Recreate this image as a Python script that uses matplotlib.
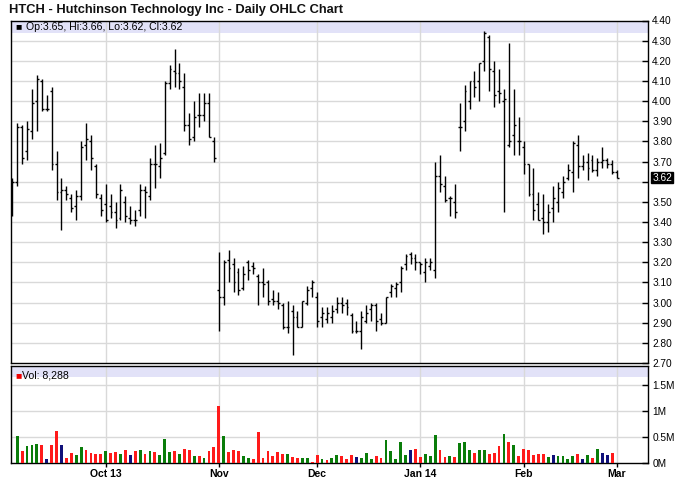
import numpy as np
import matplotlib
matplotlib.use("Agg")
import matplotlib.pyplot as plt
from matplotlib.transforms import blended_transform_factory

# ---------------- data ----------------
opens = [3.52, 3.60, 3.87, 3.75, 3.85, 4.00, 4.10, 3.96, 4.05, 3.69,
         3.55, 3.56, 3.52, 3.48, 3.53, 3.78, 3.80, 3.68, 3.52, 3.49,
         3.48, 3.45, 3.42, 3.50, 3.42, 3.41, 3.46, 3.56, 3.53, 3.69,
         3.68, 3.74, 4.09, 4.15, 4.14, 4.07, 3.88, 3.82, 3.93, 3.93,
         3.99, 3.80, 3.06, 3.03, 3.21, 3.19, 3.15, 3.07, 3.20, 3.18,
         3.13, 3.10, 3.10, 3.02, 3.01, 2.99, 2.88, 2.96, 2.93, 2.88,
         3.00, 3.07, 3.03, 2.93, 2.92, 2.93, 2.97, 3.00, 3.00, 2.94,
         2.86, 2.86, 2.91, 2.97, 2.99, 2.92, 2.90, 3.05, 3.07, 3.10,
         3.19, 3.24, 3.22, 3.20, 3.15, 3.18, 3.16, 3.63, 3.58, 3.52,
         3.50, 3.87, 3.90, 4.00, 4.10, 4.10, 4.20, 4.32, 4.15, 4.05,
         4.00, 3.78, 3.83, 3.80, 3.77, 3.69, 3.54, 3.49, 3.42, 3.40,
         3.47, 3.50, 3.55, 3.62, 3.65, 3.78, 3.68, 3.70, 3.71, 3.66,
         3.70, 3.71, 3.69, 3.65]
highs = [3.62, 3.89, 3.88, 3.90, 4.06, 4.13, 4.11, 4.03, 4.07, 3.75,
         3.62, 3.58, 3.54, 3.56, 3.80, 3.89, 3.83, 3.69, 3.54, 3.59,
         3.54, 3.50, 3.59, 3.53, 3.48, 3.46, 3.59, 3.58, 3.72, 3.78,
         3.79, 4.10, 4.18, 4.26, 4.19, 4.14, 3.94, 4.00, 4.04, 4.04,
         4.04, 3.82, 3.25, 3.21, 3.26, 3.22, 3.17, 3.18, 3.21, 3.20,
         3.14, 3.17, 3.11, 3.06, 3.05, 3.00, 3.01, 2.99, 2.96, 3.01,
         3.08, 3.11, 3.05, 2.98, 2.98, 2.99, 3.03, 3.03, 3.02, 2.95,
         2.91, 2.96, 2.99, 3.00, 3.00, 2.95, 3.03, 3.09, 3.10, 3.18,
         3.24, 3.25, 3.24, 3.20, 3.22, 3.22, 3.70, 3.73, 3.63, 3.53,
         3.59, 3.99, 4.08, 4.10, 4.15, 4.19, 4.35, 4.33, 4.20, 4.16,
         4.06, 4.29, 4.06, 3.92, 3.80, 3.69, 3.67, 3.55, 3.54, 3.49,
         3.58, 3.60, 3.63, 3.69, 3.80, 3.83, 3.73, 3.74, 3.73, 3.72,
         3.77, 3.72, 3.71, 3.66]
lows = [3.43, 3.58, 3.69, 3.71, 3.81, 3.85, 3.95, 3.95, 3.66, 3.51,
        3.36, 3.51, 3.45, 3.41, 3.51, 3.71, 3.66, 3.52, 3.43, 3.40,
        3.42, 3.37, 3.41, 3.40, 3.39, 3.38, 3.43, 3.42, 3.51, 3.57,
        3.62, 3.73, 4.06, 4.07, 4.06, 3.85, 3.78, 3.80, 3.87, 3.90,
        3.82, 3.70, 2.86, 2.99, 3.10, 3.05, 3.04, 3.06, 3.11, 3.14,
        2.99, 3.03, 2.99, 2.99, 2.97, 2.87, 2.85, 2.74, 2.88, 2.88,
        2.99, 3.03, 2.88, 2.88, 2.90, 2.90, 2.95, 2.95, 2.94, 2.85,
        2.85, 2.77, 2.90, 2.91, 2.86, 2.89, 2.90, 3.03, 3.03, 3.05,
        3.16, 3.19, 3.16, 3.14, 3.10, 3.16, 3.12, 3.55, 3.50, 3.43,
        3.42, 3.75, 3.85, 3.96, 4.02, 4.00, 4.15, 4.05, 3.97, 3.99,
        3.45, 3.77, 3.73, 3.73, 3.64, 3.53, 3.41, 3.41, 3.34, 3.35,
        3.40, 3.45, 3.52, 3.61, 3.55, 3.62, 3.66, 3.61, 3.65, 3.63,
        3.67, 3.67, 3.64, 3.62]
closes = [3.60, 3.87, 3.72, 3.86, 3.99, 4.11, 3.96, 3.96, 3.69, 3.55,
          3.56, 3.54, 3.47, 3.53, 3.77, 3.81, 3.72, 3.54, 3.46, 3.41,
          3.45, 3.41, 3.56, 3.43, 3.41, 3.41, 3.56, 3.55, 3.69, 3.69,
          3.72, 4.09, 4.16, 4.14, 4.10, 3.88, 3.81, 3.92, 3.93, 3.99,
          3.82, 3.72, 3.03, 3.20, 3.17, 3.10, 3.06, 3.14, 3.16, 3.17,
          3.10, 3.09, 3.01, 3.01, 3.00, 2.88, 2.88, 2.93, 2.88, 3.01,
          3.06, 3.10, 2.91, 2.95, 2.95, 2.96, 3.00, 2.99, 2.98, 2.86,
          2.86, 2.93, 2.95, 2.99, 2.91, 2.90, 3.03, 3.08, 3.09, 3.17,
          3.23, 3.22, 3.20, 3.19, 3.20, 3.20, 3.63, 3.59, 3.51, 3.52,
          3.45, 3.87, 4.05, 4.10, 4.07, 4.19, 4.34, 4.16, 4.03, 4.04,
          4.01, 3.80, 3.88, 3.80, 3.69, 3.54, 3.46, 3.41, 3.40, 3.45,
          3.52, 3.57, 3.60, 3.66, 3.79, 3.68, 3.70, 3.67, 3.66, 3.70,
          3.71, 3.69, 3.65, 3.62]

# volume in millions of shares, and bar colour code
volumes = [0.0, 0.515, 0.225, 0.32, 0.355, 0.37, 0.34, 0.07, 0.34, 0.625,
           0.34, 0.10, 0.20, 0.15, 0.30, 0.26, 0.19, 0.17, 0.17, 0.225,
           0.19, 0.205, 0.17, 0.26, 0.15, 0.225, 0.245, 0.17, 0.24, 0.205,
           0.15, 0.46, 0.205, 0.225, 0.17, 0.28, 0.245, 0.13, 0.13, 0.09,
           0.225, 0.30, 1.10, 0.515, 0.205, 0.245, 0.225, 0.13, 0.09, 0.07,
           0.59, 0.09, 0.225, 0.13, 0.205, 0.17, 0.17, 0.11, 0.09, 0.09,
           0.09, 0.02, 0.15, 0.07, 0.05, 0.09, 0.15, 0.13, 0.07, 0.15,
           0.11, 0.09, 0.19, 0.07, 0.13, 0.09, 0.44, 0.225, 0.07, 0.40,
           0.15, 0.26, 0.28, 0.11, 0.17, 0.13, 0.535, 0.26, 0.11, 0.13,
           0.11, 0.38, 0.40, 0.245, 0.19, 0.26, 0.26, 0.17, 0.19, 0.32,
           0.555, 0.40, 0.34, 0.13, 0.28, 0.245, 0.15, 0.17, 0.17, 0.11,
           0.15, 0.135, 0.135, 0.07, 0.135, 0.17, 0.07, 0.15, 0.09, 0.28,
           0.19, 0.15, 0.19, 0.008288]
vol_codes = list("ggrgggrbrr" "brrggrrrrg" "rrgrbrgrgr" "gggrgrrgrg"
                 "rrrgrrrggr" "rrrrrrgrrg" "grrgrggrrr" "bgggrrgggg"
                 "gbrrgggrrg" "rgggrggrrr" "grgrrrrrrg" "bggggrbgrg"
                 "bbrr")

month_labels = ["Oct 13", "Nov", "Dec", "Jan 14", "Feb", "Mar"]
month_bars = [19, 42, 62, 83, 104, 123]

title = "HTCH - Hutchinson Technology Inc - Daily OHLC Chart"
price_info = "Op:3.65, Hi:3.66, Lo:3.62, Cl:3.62"
vol_info = "Vol: 8,288"
last_price = 3.62

# ---------------- figure ----------------
plt.rcParams['font.family'] = ['Liberation Sans', 'DejaVu Sans']
W, H = 688, 503
fig = plt.figure(figsize=(W / 100, H / 100), dpi=100)
fig.patch.set_facecolor("white")

def frac(x0, y0, x1, y1):
    return [x0 / W, 1 - y1 / H, (x1 - x0) / W, (y1 - y0) / H]

ax = fig.add_axes(frac(11, 20.5, 648, 363))
axv = fig.add_axes(frac(11, 365.5, 648, 463))

n = len(opens)
x = np.arange(n)
xlim = (-0.26, 129.3)
grid_c = "#d9d9d9"
band_c = "#e2e2f8"

# price panel
ax.set_xlim(*xlim)
ax.set_ylim(2.70, 4.40)
ax.axhspan(4.34, 4.40, color=band_c, zorder=0, lw=0)
for yv in np.arange(2.80, 4.35, 0.10):
    ax.axhline(yv, color=grid_c, lw=1, zorder=1)
for mb in month_bars:
    ax.axvline(mb, color=grid_c, lw=1, zorder=1)
ax.vlines(x, lows, highs, color="black", lw=1, zorder=3)
ax.hlines(opens, x - 0.38, x, color="black", lw=1, zorder=3)
ax.hlines(closes, x, x + 0.38, color="black", lw=1, zorder=3)

ax.yaxis.tick_right()
yt = np.round(np.arange(2.70, 4.401, 0.10), 2)
ax.set_yticks(yt)
ax.set_yticklabels(["" if abs(v - 3.60) < 1e-6 else f"{v:.2f}" for v in yt])
ax.tick_params(axis="y", direction="in", length=4, width=1, pad=3,
               labelsize=7.3, colors="black")
ax.set_xticks([])
for s in ax.spines.values():
    s.set_color("black")
    s.set_linewidth(1)

trans = blended_transform_factory(ax.transAxes, ax.transData)
ax.text(1.0065, last_price, f"{last_price:.2f}", transform=trans, fontsize=7.3,
        color="white", va="center", ha="left",
        bbox=dict(boxstyle="square,pad=0.08", fc="black", ec="black"))
ax.text(0.0065, 0.982, "\u25A0", transform=ax.transAxes, fontsize=7.5,
        va="center", ha="left", color="black")
ax.text(0.024, 0.982, price_info, transform=ax.transAxes, fontsize=7.6,
        va="center", ha="left", color="black")

# volume panel
cmap = {"g": "#0a7d0a", "r": "#ff1a1a", "b": "#10107a"}
vols = np.array(volumes) * 1e6
axv.set_xlim(*xlim)
vmax = 1.885e6
axv.set_ylim(0, vmax)
axv.axhspan(1.655e6, vmax, color=band_c, zorder=0, lw=0)
for yv in [0.5e6, 1.0e6, 1.5e6]:
    axv.axhline(yv, color=grid_c, lw=1, zorder=1)
for mb in month_bars:
    axv.axvline(mb, color=grid_c, lw=1, zorder=1)
axv.bar(x, vols, width=0.58, color=[cmap[c] for c in vol_codes], zorder=3, lw=0)
axv.yaxis.tick_right()
axv.set_yticks([0, 0.5e6, 1.0e6, 1.5e6])
axv.set_yticklabels(["0M", "0.5M", "1M", "1.5M"])
axv.tick_params(axis="y", direction="in", length=4, width=1, pad=3,
                labelsize=7.3, colors="black")
axv.set_xticks(month_bars)
axv.set_xticklabels(month_labels, fontweight="bold")
axv.tick_params(axis="x", direction="out", length=3, width=1, pad=1.5,
                labelsize=7.5, colors="black")
for s in axv.spines.values():
    s.set_color("black")
    s.set_linewidth(1)
axv.text(0.0065, 0.9, "\u25A0", transform=axv.transAxes, fontsize=7.5,
         va="center", ha="left", color="#ee0000")
axv.text(0.018, 0.9, vol_info, transform=axv.transAxes, fontsize=7.6,
         va="center", ha="left", color="black")

fig.text(9 / W, 1 - 10 / H, title, fontsize=9.3, fontweight="bold",
         va="center", ha="left", color="#111111")

fig.savefig("out.png", dpi=100, facecolor="white")
